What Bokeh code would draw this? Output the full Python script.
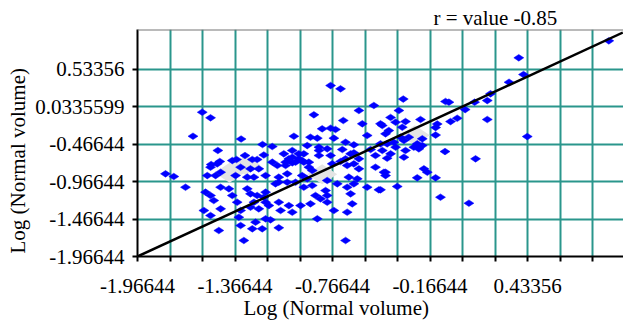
import numpy as np
from bokeh.plotting import figure
from bokeh.models import Range1d, FixedTicker, Span, Title
from bokeh.embed import file_html
from bokeh.resources import INLINE

# ---- data ----
x_vals = [-1.568, -1.517, -1.625, -1.329, -1.472, -1.197, -1.137, -1.305, -1.189, -1.460,
          -1.260, -1.230, -1.357, -1.513, -1.794, -1.743, -1.671, -1.517, -1.476, -1.383,
          -1.537, -1.486, -1.455, -1.363, -1.332, -1.271, -1.220, -1.178, -1.291, -1.250,
          -1.455, -1.404, -1.291, -1.548, -1.517, -1.383, -1.271, -1.230, -1.189, -1.497,
          -1.353, -1.250, -1.178, -1.558, -1.517, -1.455, -1.332, -1.271, -1.220, -1.343,
          -1.240, -1.178, -1.332, -1.466, -1.260, -1.199, -1.312, -0.778, -0.717, -0.512,
          -0.604, -0.881, -0.700, -0.583, -0.471, -0.830, -0.778, -0.748, -1.004, -0.902,
          -0.860, -0.758, -0.686, -0.635, -0.553, -0.922, -1.066, -1.014, -0.974, -0.943,
          -0.850, -0.799, -0.778, -0.706, -0.686, -0.635, -0.532, -0.502, -0.460, -0.912,
          -1.014, -1.055, -1.137, -0.768, -0.717, -1.106, -0.943, -0.912, -1.097, -1.045,
          -0.994, -1.117, -0.943, -0.891, -0.809, -0.799, -0.737, -0.676, -0.635, -0.614,
          -0.655, -0.635, -0.604, -0.502, -0.450, -0.553, -0.481, -0.871, -0.840, -1.097,
          -1.035, -0.963, -1.158, -1.086, -1.014, -0.902, -0.799, -0.758, -0.676, -0.645,
          -0.860, -1.148, -1.097, -0.686, -0.331, -0.071, -0.050, 0.186, 0.206, 0.108,
          0.050, -0.358, -0.409, -0.378, -0.317, -0.225, -0.040, 0.001, 0.186, -0.122,
          -0.132, -0.460, -0.440, -0.337, -0.132, -0.348, -0.297, -0.327, -0.430, -0.245,
          -0.214, -0.266, -0.214, -0.378, -0.317, -0.409, -0.074, -0.327, -0.430, 0.114,
          -0.440, -0.440, -0.204, -0.183, -0.245, -0.132, -0.368, -0.471, -0.102, 0.073,
          0.380, 0.409, 0.320, 0.432, 0.934,
          -0.850, -1.014, -0.974, -1.035, -0.994, -0.953, -1.055, -0.850, -0.655, -0.676,
          -1.097, -1.045, -0.953, -0.922, -0.891, -0.799, -0.666, -1.178, -0.420, -0.471,
          -0.389, -0.235, -0.604]
y_vals = [-0.043, -0.117, -0.363, -0.400, -0.553, -0.473, -0.500, -0.620, -0.613, -0.700,
          -0.673, -0.673, -0.673, -0.740, -0.864, -0.900, -1.043, -0.776, -0.731, -0.687,
          -0.887, -0.887, -0.843, -0.887, -0.776, -0.797, -0.797, -0.887, -0.909, -0.909,
          -1.043, -1.064, -1.064, -1.109, -1.153, -1.153, -1.131, -1.153, -1.176, -1.220,
          -1.243, -1.243, -1.243, -1.353, -1.420, -1.331, -1.353, -1.309, -1.331, -1.443,
          -1.509, -1.464, -1.553, -1.620, -1.597, -1.597, -1.753, 0.313, 0.269, 0.047,
          -0.020, -0.077, -0.153, -0.197, -0.197, -0.264, -0.256, -0.273, -0.363, -0.376,
          -0.389, -0.389, -0.443, -0.477, -0.353, -0.487, -0.597, -0.643, -0.664, -0.597,
          -0.553, -0.531, -0.620, -0.540, -0.664, -0.584, -0.540, -0.620, -0.553, -0.709,
          -0.717, -0.709, -0.709, -0.731, -0.700, -0.753, -0.709, -0.776, -0.909, -0.864,
          -0.976, -0.997, -1.043, -1.020, -1.087, -1.153, -0.997, -1.043, -0.997, -0.931,
          -1.131, -0.731, -0.797, -0.776, -0.843, -1.043, -1.077, -1.153, -1.197, -1.243,
          -1.287, -1.287, -1.287, -1.353, -1.376, -1.264, -1.243, -1.353, -1.376, -1.264,
          -1.464, -1.477, -1.584, -1.753, 0.133, 0.100, 0.091, 0.113, 0.203, 0.091,
          -0.007, -0.020, -0.113, -0.176, -0.167, -0.140, -0.167, -0.123, -0.140, -0.200,
          -0.247, -0.220, -0.331, -0.243, -0.347, -0.376, -0.376, -0.420, -0.464, -0.464,
          -0.397, -0.509, -0.487, -0.509, -0.553, -0.597, -0.567, -0.643, -0.656, -0.664,
          -0.843, -0.887, -0.797, -0.843, -0.917, -0.917, -1.033, -1.077, -1.176, -1.256,
          0.683, 0.460, 0.357, -0.367, 0.909,
          -0.509, -0.553, -0.597, -0.664, -0.709, -0.687, -0.753, -0.620, -0.597, -0.753,
          -0.976, -0.976, -0.887, -0.931, -0.820, -0.953, -0.909, -1.109, -0.287, -0.464,
          -0.443, -0.531, -0.664]

# fitted line end points
fit_x = [-1.96644, 1.02]
fit_y = [-1.96644, 1.02]

# light grey density shading behind the points
shade_x = [-1.40, -1.30, -0.83, -0.26]
shade_y = [-0.85, -0.75, -0.87, -0.35]

x_ticks = [-1.96644, -1.76644, -1.56644, -1.36644, -1.16644, -0.96644, -0.76644, -0.56644,
           -0.36644, -0.16644, 0.03356, 0.23356, 0.43356, 0.63356, 0.83356]
x_labelled = {-1.96644: "-1.96644", -1.36644: "-1.36644", -0.76644: "-0.76644",
              -0.16644: "-0.16644", 0.43356: "0.43356"}
y_ticks = [-1.96644, -1.46644, -0.96644, -0.46644, 0.03356, 0.53356]
y_tick_labels = ["-1.96644", "-1.46644", "-0.96644", "-0.46644", "0.0335599", "0.53356"]

axis_title = "Log (Normal volume)"
r_text = "r = value -0.85"

# ---- figure ----
X0, X1 = -1.96644, 1.0243
Y0, Y1 = -1.96644, 1.06023
FONT = "Liberation Serif"
TEAL = "#2a968c"

p = figure(width=623, height=324, output_backend="svg", toolbar_location=None,
           x_range=Range1d(X0, X1), y_range=Range1d(Y0, Y1),
           min_border_left=137, min_border_right=0, min_border_top=29, min_border_bottom=68)
p.outline_line_color = None
p.background_fill_color = "white"

p.xaxis.ticker = FixedTicker(ticks=x_ticks)
p.yaxis.ticker = FixedTicker(ticks=y_ticks)
p.xaxis.major_label_overrides = {t: x_labelled.get(t, "") for t in x_ticks}
p.yaxis.major_label_overrides = dict(zip(y_ticks, y_tick_labels))

for ax in (p.xaxis, p.yaxis):
    ax.axis_line_color = "black"
    ax.axis_line_width = 2
    ax.major_tick_line_color = "black"
    ax.major_tick_line_width = 2
    ax.major_tick_out = 5
    ax.major_tick_in = 0
    ax.minor_tick_line_color = None
    ax.major_label_text_font = FONT
    ax.major_label_text_font_size = "21px"
    ax.major_label_text_color = "black"
p.xaxis.major_label_standoff = 17
p.yaxis.major_label_standoff = 8

for g in (p.xgrid, p.ygrid):
    g.grid_line_color = TEAL
    g.grid_line_width = 2

p.add_layout(Span(location=Y1, dimension="width", line_color="#777777", line_width=2))

p.scatter(shade_x, shade_y, marker="diamond", size=30, angle=np.pi / 2,
          fill_color="#e4e4e4", line_color=None)
p.scatter(x_vals, y_vals, marker="diamond", size=10, angle=np.pi / 2,
          fill_color="#0000ff", line_color="#0000ff", line_width=0.5)
p.line(fit_x, fit_y, line_color="black", line_width=2.5)

def make_title(text, offset, valign, standoff):
    return Title(text=text, align="left", offset=offset, vertical_align=valign,
                 standoff=standoff, text_font=FONT, text_font_size="21px",
                 text_font_style="normal", text_color="black")

p.add_layout(make_title(r_text, 296, "bottom", 0), "above")
p.add_layout(make_title(axis_title, 106, "top", 0), "below")
p.add_layout(make_title(axis_title, 3, "bottom", 6), "left")

open("out.html", "w").write(file_html(p, INLINE))
